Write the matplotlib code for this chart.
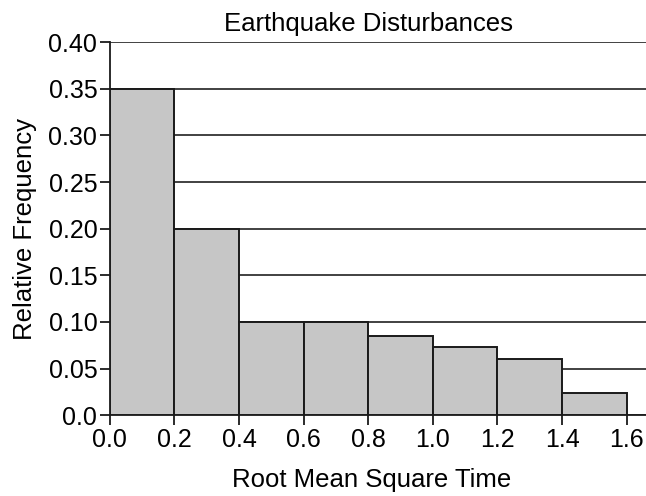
import matplotlib.pyplot as plt
import numpy as np

plt.rcParams.update(
    {
        'font.family': ['Liberation Sans', 'DejaVu Sans'],
        'axes.labelsize': 18.5,
        'xtick.labelsize': 18,
        'ytick.labelsize': 18,
    }
)

# bin edges and relative frequency of each bin
bin_edges = [0.0, 0.2, 0.4, 0.6, 0.8, 1.0, 1.2, 1.4, 1.6]
rel_freq = [0.35, 0.20, 0.10, 0.10, 0.085, 0.073, 0.060, 0.024]
y_ticks = [0.0, 0.05, 0.10, 0.15, 0.20, 0.25, 0.30, 0.35, 0.40]
y_tick_labels = ['0.0', '0.05', '0.10', '0.15', '0.20',
                 '0.25', '0.30', '0.35', '0.40']

fig = plt.figure(figsize=(6.46, 4.96), dpi=100)
ax = fig.add_axes([0.170, 0.163, 0.830, 0.752])

edges = np.array(bin_edges)
ax.bar(
    edges[:-1], rel_freq, width=np.diff(edges), align='edge',
    color='#c6c6c6', edgecolor='#1a1a1a', linewidth=1.4, zorder=3,
)

ax.set_xlim(0, 1.66)
ax.set_ylim(0, 0.40)
ax.set_xticks(bin_edges)
ax.set_xticklabels([f'{v:.1f}' for v in bin_edges])
ax.set_yticks(y_ticks)
ax.set_yticklabels(y_tick_labels)
ax.yaxis.grid(True, color='#333333', linewidth=1.3, zorder=0)
ax.set_axisbelow(True)

for side in ('top', 'right'):
    ax.spines[side].set_visible(False)
for side in ('left', 'bottom'):
    ax.spines[side].set_color('#1a1a1a')
    ax.spines[side].set_linewidth(1.3)
ax.tick_params(axis='both', direction='out', length=7, width=1.3,
               color='#1a1a1a', pad=2)

ax.set_title('Earthquake Disturbances', fontsize=18.5, pad=8, x=0.482)
ax.set_xlabel('Root Mean Square Time', labelpad=12, x=0.488)
ax.set_ylabel('Relative Frequency', labelpad=8)

fig.savefig('out.png', dpi=100)
